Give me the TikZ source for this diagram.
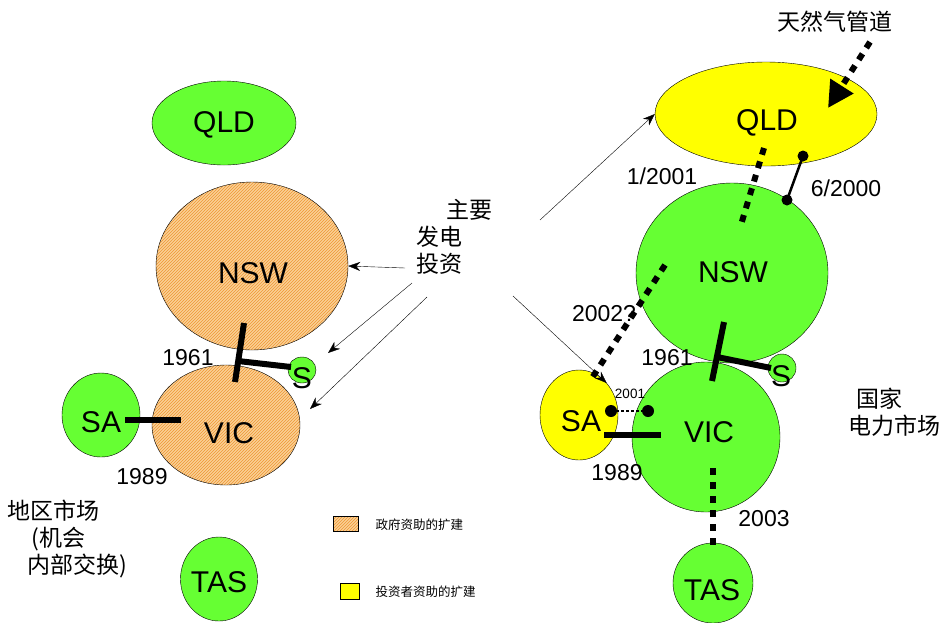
\documentclass[tikz,border=0pt]{standalone}
\usepackage{fontspec}
\setmainfont{Liberation Sans}
\newfontfamily\cjk{Noto Sans CJK SC}
\usetikzlibrary{shapes.geometric,patterns,arrows.meta}
\definecolor{grn}{RGB}{102,255,51}
\definecolor{ylw}{RGB}{255,255,0}
\definecolor{hfill}{RGB}{250,208,150}
\definecolor{hline}{RGB}{238,150,50}
\begin{document}
\begin{tikzpicture}[x=1pt,y=-1pt,
  region/.style={ellipse,draw,thin,inner sep=0pt},
  green/.style={region,fill=grn},
  yellow/.style={region,fill=ylw},
  gov/.style={region,preaction={fill=hfill},pattern=north east lines,pattern color=hline},
  big/.style={font=\fontsize{30}{30}\selectfont},
  yr/.style={font=\fontsize{23}{23}\selectfont},
  zh/.style={font=\cjk\fontsize{23}{27}\selectfont,align=left},
  link/.style={line width=6pt},
  plan/.style={line width=6pt,dash pattern=on 7pt off 7pt},
  inv/.style={-{Stealth[length=12pt,width=9pt]},thin}]
\useasboundingbox(0,0)rectangle(944,622);
% regional market (left)
\node[green,minimum width=144,minimum height=84](qldL)at(224,123){};
\node[big]at(224,125){QLD};
\node[gov,minimum width=192,minimum height=168](nswL)at(252,266){};
\node[big]at(253,273){NSW};
\node[gov,minimum width=148,minimum height=120](vicL)at(226,425){};
\node[big]at(229,433){VIC};
\node[green,minimum width=78,minimum height=84](saL)at(101,415){};
\node[big]at(101,422){SA};
\node[green,minimum width=28,minimum height=26](sL)at(302,370){};
\node[big]at(302,378){S};
\node[green,minimum width=77,minimum height=84](tasL)at(219,579){};
\node[big]at(219,582){TAS};
\coordinate(n1)at(244,323);\coordinate(n2)at(235,382);
\coordinate(n3)at(238,361);\coordinate(n4)at(291,367);
\draw[link](n1)--(n2)(n3)--(n4);
\coordinate(a1)at(125,420);\coordinate(a2)at(181,420);
\draw[link](a1)--(a2);
\node[yr](y1)at(188,358){1961};
\node[yr](y2)at(142,477){1989};
\node[zh,anchor=north west](reg)at(4,496){地区市场\\\hspace{24pt}(机会\\\hspace{20pt}内部交换)};
% legend
\node[gov,rectangle,minimum width=25,minimum height=15](keyA)at(346,524){};
\node[font=\cjk\fontsize{12.5}{12.5}\selectfont,anchor=west](txtA)at(372,525){政府资助的扩建};
\node[yellow,rectangle,minimum width=19,minimum height=16](keyB)at(350,591){};
\node[font=\cjk\fontsize{12.5}{12.5}\selectfont,anchor=west](txtB)at(372,592){投资者资助的扩建};
% investment
\node[zh,anchor=north west](gen)at(413,196){\hspace{30pt}主要\\发电\\投资};
\coordinate(g1)at(405,268);\coordinate(g2)at(412,283);\coordinate(g3)at(427,297);
\coordinate(g4)at(513,296);\coordinate(g5)at(540,220);
\draw[inv](g1)--(nswL.east);
\draw[inv](g2)--(328,353);
\draw[inv](g3)--(310,409);
% national market (right)
\node[yellow,minimum width=222,minimum height=104](qldR)at(766,114){};
\node[big]at(767,123){QLD};
\node[green,minimum width=192,minimum height=180](nswR)at(732,273){};
\node[big]at(733,272){NSW};
\node[green,minimum width=148,minimum height=150](vicR)at(706,437){};
\node[big]at(709,432){VIC};
\node[yellow,minimum width=78,minimum height=90](saR)at(579,415){};
\node[big]at(581,421){SA};
\node[green,minimum width=28,minimum height=28](sR)at(782,368){};
\node[big]at(781,376){S};
\node[green,minimum width=80,minimum height=80](tasR)at(713,583){};
\node[big]at(712,590){TAS};
\draw[inv](g4)--(saR.north east);
\draw[inv](g5)--(qldR.west);
\coordinate(m1)at(724,322);\coordinate(m2)at(712,381);
\coordinate(m3)at(717,357);\coordinate(m4)at(771,368);
\draw[link](m1)--(m2)(m3)--(m4);
\coordinate(b1)at(604,435);\coordinate(b2)at(661,435);
\draw[link](b1)--(b2);
\node[yr](y3)at(667,358){1961};
\node[yr](y4)at(617,473){1989};
% new links
\coordinate(p1)at(764,148);\coordinate(p2)at(740,228);
\draw[plan](p1)--(p2);
\node[yr](y5)at(662,176){1/2001};
\coordinate(q1)at(803,156);\coordinate(q2)at(787,200);
\draw[line width=2.5pt](q1)--(q2);
\fill(q1)circle(5.5)(q2)circle(5.5);
\node[yr](y6)at(846,188){6/2000};
\coordinate(r1)at(665,265);\coordinate(r2)at(592,378);
\draw[plan](r1)--(r2);
\node[yr](y7)at(604,314){2002?};
\coordinate(s1)at(611,411);\coordinate(s2)at(648,411);
\draw[line width=2pt,dash pattern=on 2.5pt off 2.5pt](s1)--(s2);
\fill(s1)circle(6)(s2)circle(6);
\node[font=\fontsize{13.5}{13.5}\selectfont](y8)at(630,394){2001};
\coordinate(t1)at(713,468);\coordinate(t2)at(713,551);
\draw[plan](t1)--(t2);
\node[yr](y9)at(764,519){2003};
% gas pipeline
\node[zh](gas)at(835,22){天然气管道};
\coordinate(u1)at(870,42);\coordinate(u2)at(828,108);
\draw[plan,-{Triangle[length=26pt,width=26pt]}](u1)--(u2);
\node[zh,anchor=north west](nem)at(845,384){\hspace{8pt}国家\\电力市场};
\end{tikzpicture}
\end{document}
